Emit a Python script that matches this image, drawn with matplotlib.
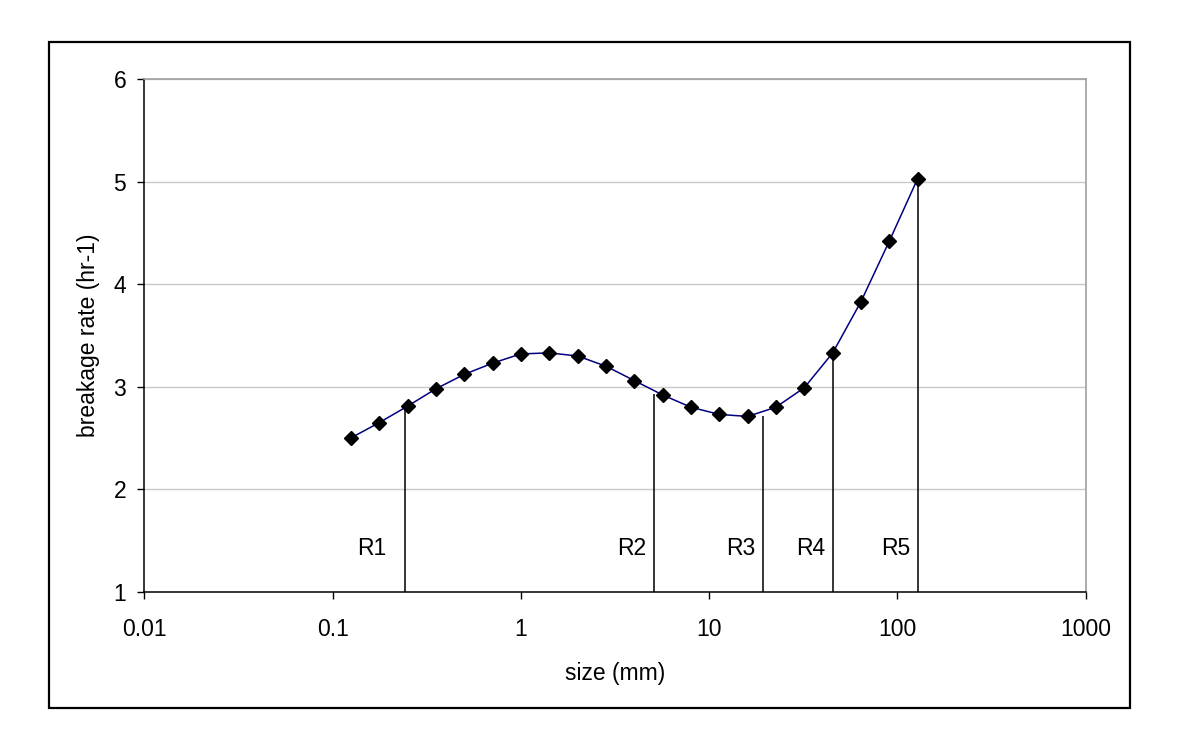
import matplotlib
matplotlib.use('Agg')
import matplotlib.pyplot as plt
from matplotlib.patches import Rectangle
import numpy as np

plt.rcParams['font.family'] = ['Liberation Sans', 'DejaVu Sans']

# measured data
size_mm = [0.125, 0.177, 0.25, 0.354, 0.5, 0.707, 1.0, 1.41, 2.0, 2.83, 4.0,
           5.66, 8.0, 11.3, 16.0, 22.6, 32.0, 45.3, 64.0, 90.5, 128.0]
rate = [2.50, 2.65, 2.81, 2.98, 3.12, 3.23, 3.32, 3.33, 3.30, 3.20, 3.06,
        2.92, 2.80, 2.73, 2.71, 2.80, 2.99, 3.33, 3.83, 4.42, 5.03]

# region markers
region_names = ['R1', 'R2', 'R3', 'R4', 'R5']
region_x = [0.243, 5.11, 19.2, 45.3, 128.0]
region_top = [2.81, 2.93, 2.71, 3.33, 5.03]
label_x = [0.193, 4.64, 17.6, 41.3, 116.7]
label_y = 1.42

xticks = [0.01, 0.1, 1, 10, 100, 1000]
xticklabels = ['0.01', '0.1', '1', '10', '100', '1000']
yticks = [1, 2, 3, 4, 5, 6]

fs = 16.5

fig = plt.figure(figsize=(11.79, 7.43), dpi=100)
ax = fig.add_axes([0.1224, 0.2036, 0.7985, 0.6898])

# outer chart border
fig.patches.append(Rectangle((0.0416, 0.0471), 0.9169, 0.8964, transform=fig.transFigure,
                             fill=False, edgecolor='black', linewidth=1.6))

for yv in yticks[1:]:
    ax.axhline(yv, color='#c8c8c8', linewidth=1.0, zorder=0)

ax.vlines(region_x, 1, region_top, colors='black', linewidth=1.1, zorder=1)
for name, xv in zip(region_names, label_x):
    ax.text(xv, label_y, name, ha='right', va='center', fontsize=fs)

ax.plot(size_mm, rate, color='#000080', linewidth=1.1, zorder=2)
ax.plot(size_mm, rate, linestyle='none', marker='D', markersize=7.5,
        color='black', zorder=3)

ax.set_xscale('log')
ax.set_xlim(0.01, 1000)
ax.set_ylim(1, 6)
ax.set_xticks(xticks)
ax.set_xticklabels(xticklabels)
ax.minorticks_off()
ax.set_yticks(yticks)
ax.tick_params(direction='out', length=5, width=1, labelsize=fs)
ax.tick_params(axis='x', pad=14)
ax.tick_params(axis='y', pad=8)

for s in ['top', 'right']:
    ax.spines[s].set_color('#a0a0a0')
    ax.spines[s].set_linewidth(1.2)
for s in ['left', 'bottom']:
    ax.spines[s].set_linewidth(1.1)

ax.set_xlabel('size (mm)', fontsize=fs, labelpad=15)
ax.set_ylabel('breakage rate (hr-1)', fontsize=fs, labelpad=10)

fig.savefig('out.png', dpi=100)
